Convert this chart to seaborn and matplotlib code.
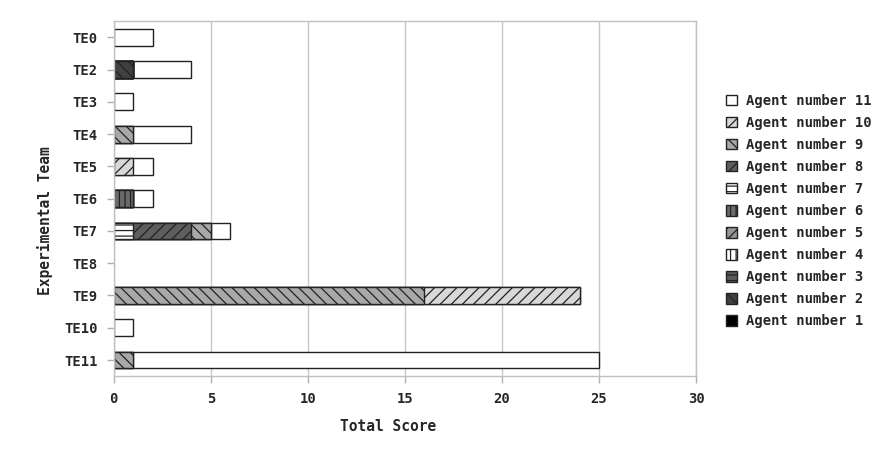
import pandas as pd
import numpy as np
import matplotlib
matplotlib.use("Agg")
import matplotlib.pyplot as plt
from matplotlib.patches import Patch
import seaborn as sns

# teams top to bottom
teams = ["TE0", "TE2", "TE3", "TE4", "TE5", "TE6", "TE7", "TE8", "TE9", "TE10", "TE11"]

# score per agent (agent 1 .. agent 11), one entry per team
agent1 = [0, 0, 0, 0, 0, 0, 0, 0, 0, 0, 0]
agent2 = [0, 1, 0, 0, 0, 0, 0, 0, 0, 0, 0]
agent3 = [0, 0, 0, 0, 0, 0, 0, 0, 0, 0, 0]
agent4 = [0, 0, 0, 0, 0, 0, 0, 0, 0, 0, 0]
agent5 = [0, 0, 0, 0, 0, 0, 0, 0, 0, 0, 0]
agent6 = [0, 0, 0, 0, 0, 1, 0, 0, 0, 0, 0]
agent7 = [0, 0, 0, 0, 0, 0, 1, 0, 0, 0, 0]
agent8 = [0, 0, 0, 0, 0, 0, 3, 0, 0, 0, 0]
agent9 = [0, 0, 0, 1, 0, 0, 1, 0, 16, 0, 1]
agent10 = [0, 0, 0, 0, 1, 0, 0, 0, 8, 0, 0]
agent11 = [2, 3, 1, 3, 1, 1, 1, 0, 0, 1, 24]

agent_names = ["Agent number %d" % i for i in range(1, 12)]
agent_scores = [agent1, agent2, agent3, agent4, agent5, agent6,
                agent7, agent8, agent9, agent10, agent11]

# fill / hatch for each agent, agent 1 first
fills = ["#000000", "#404040", "#5a5a5a", "#ffffff", "#959595", "#6a6a6a",
         "#ffffff", "#5e5e5e", "#a8a8a8", "#d8d8d8", "#ffffff"]
hatches = ["", "\\\\\\", "---", "|||", "///", "|||",
           "---", "///", "\\\\\\", "///", ""]

sns.set_style("white")
plt.rcParams["font.family"] = ["DejaVu Sans Mono"]
plt.rcParams["font.weight"] = "bold"
plt.rcParams["hatch.linewidth"] = 0.9

fig = plt.figure(figsize=(8.89, 4.51), dpi=100)
ax = fig.add_axes([0.128, 0.166, 0.655, 0.787])

scores = pd.DataFrame(dict(zip(agent_names, agent_scores)), index=teams)
cum = scores.cumsum(axis=1)

# stacked bars: draw cumulative totals from the outermost agent inwards
for i in range(10, -1, -1):
    name = agent_names[i]
    d = pd.DataFrame({"team": teams, "score": cum[name].values})
    d = d[d["score"] > 0]
    if d.empty:
        continue
    sns.barplot(data=d, x="score", y="team", order=teams, orient="y",
                color=fills[i], saturation=1, width=0.52, errorbar=None,
                edgecolor="#222222", linewidth=1, hatch=hatches[i], ax=ax)

ax.set_xlim(0, 30)
ax.set_ylim(len(teams) - 0.5, -0.5)
ax.set_xticks(range(0, 31, 5))
ax.grid(axis="x", color="#c8c8c8", linewidth=1)
ax.grid(axis="y", visible=False)
ax.set_axisbelow(True)
for s in ax.spines.values():
    s.set_visible(True)
    s.set_color("#c0c0c0")
    s.set_linewidth(1)
ax.tick_params(axis="both", which="major", length=5, width=1, color="#b0b0b0",
               labelsize=10, pad=6.5, left=True, bottom=True)
for lab in ax.get_xticklabels() + ax.get_yticklabels():
    lab.set_fontweight("bold")

ax.set_xlabel("Total Score", fontsize=10.5, fontweight="bold")
ax.set_ylabel("Experimental Team", fontsize=10.5, fontweight="bold")
ax.xaxis.set_label_coords(0.471, -0.121)
ax.yaxis.set_label_coords(-0.105, 0.437)

handles = [Patch(facecolor=fills[i], edgecolor="#222222", hatch=hatches[i],
                 label=agent_names[i]) for i in range(10, -1, -1)]
fig.legend(handles=handles, loc="center left", bbox_to_anchor=(0.817, 0.532),
           frameon=False, handlelength=0.8, handleheight=0.8,
           handletextpad=0.6, labelspacing=0.58, borderpad=0, borderaxespad=0,
           prop={"weight": "bold", "size": 10, "family": "DejaVu Sans Mono"})

fig.savefig("out.png", dpi=100)
